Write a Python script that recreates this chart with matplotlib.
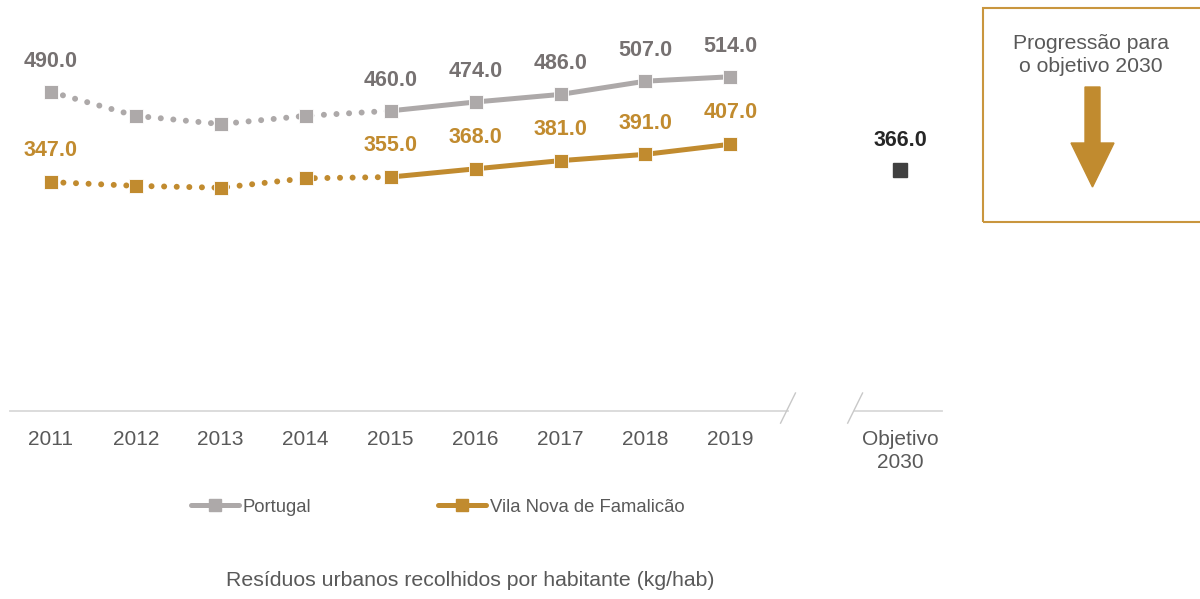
import matplotlib
matplotlib.use("Agg")
import matplotlib.pyplot as plt
import matplotlib.patches as mpatches
from matplotlib.lines import Line2D

plt.rcParams['font.family'] = ['Liberation Sans', 'DejaVu Sans']

years = ["2011", "2012", "2013", "2014", "2015", "2016", "2017", "2018", "2019"]
portugal = [490, 452, 439, 452, 460, 474, 486, 507, 514]
vnf = [347, 341, 338, 353, 355, 368, 381, 391, 407]
goal_label = "Objetivo\n2030"
goal_value = 366
portugal_shown = {0: 490, 4: 460, 5: 474, 6: 486, 7: 507, 8: 514}
vnf_shown = {0: 347, 4: 355, 5: 368, 6: 381, 7: 391, 8: 407}

GRAY = '#ADA9A9'
GRAY_TXT = '#767171'
GOLD = '#C18B2F'
DARK = '#404040'
TICK = '#595959'

W, H = 1200, 599
fig = plt.figure(figsize=(W / 100, H / 100), dpi=100)

# axes placement (pixels): left 10, right 942, bottom 411, top 20
ax = fig.add_axes([10 / W, (H - 411) / H, (942 - 10) / W, (411 - 20) / H])
ax.set_xlim(-0.48, 10.49)
ax.set_ylim(-16, 604)
for s in ax.spines.values():
    s.set_visible(False)
ax.set_yticks([])

x = list(range(len(years)))
lw = 3.6
dot = (0, (0.01, 2.1))

# Portugal
ax.plot(x[:5], portugal[:5], color=GRAY, lw=4.3, linestyle=dot, dash_capstyle='round', zorder=2)
ax.plot(x[4:], portugal[4:], color=GRAY, lw=lw, solid_capstyle='butt', zorder=2)
ax.plot(x, portugal, linestyle='none', marker='s', ms=9.5, color=GRAY, mec='white', mew=0.6, zorder=3)
# VNF
ax.plot(x[:5], vnf[:5], color=GOLD, lw=4.3, linestyle=dot, dash_capstyle='round', zorder=2)
ax.plot(x[4:], vnf[4:], color=GOLD, lw=lw, solid_capstyle='butt', zorder=2)
ax.plot(x, vnf, linestyle='none', marker='s', ms=9.5, color=GOLD, mec='white', mew=0.6, zorder=3)
# goal
gx = len(years) + 1
ax.plot([gx], [goal_value], linestyle='none', marker='s', ms=9.5, color=DARK, zorder=3)

lab_kw = dict(textcoords='offset points', ha='center', va='center', fontsize=15.5, fontweight='bold')
for i, v in portugal_shown.items():
    ax.annotate(f"{v:.1f}", (i, v), xytext=(0, 22), color=GRAY_TXT, **lab_kw)
for i, v in vnf_shown.items():
    ax.annotate(f"{v:.1f}", (i, v), xytext=(0, 22.5), color=GOLD, **lab_kw)
ax.annotate(f"{goal_value:.1f}", (gx, goal_value), xytext=(0, 21.5), color='#262626', **lab_kw)

# x ticks
ticks = x + [gx]
ax.set_xticks(ticks)
ax.set_xticklabels(years + [goal_label], fontsize=15, color=TICK, multialignment='center',
                   linespacing=1.28)
ax.tick_params(axis='x', length=0, pad=13.5)

# baseline with break
bt = ax.get_xaxis_transform()
AX = '#D9D9D9'
ax.plot([-0.48, 8.68], [0, 0], color=AX, lw=1.3, transform=bt, clip_on=False)
ax.plot([9.47, 10.49], [0, 0], color=AX, lw=1.3, transform=bt, clip_on=False)
for sx in (8.68, 9.47):
    ax.plot([sx + 0.085, sx - 0.09], [0.046, -0.031], color='#C8C8C8', lw=1.0, transform=bt, clip_on=False)

# legend
h1 = Line2D([], [], color=GRAY, lw=lw, marker='s', ms=9, solid_capstyle='round')
h2 = Line2D([], [], color=GOLD, lw=lw, marker='s', ms=9, solid_capstyle='round')
leg = fig.legend([h1, h2], ["Portugal", "Vila Nova de Famalicão"], loc='center left',
                 bbox_to_anchor=(191 / W, 1 - 507 / H), ncol=2, frameon=False,
                 fontsize=13.3, handlelength=2.6, handletextpad=0.2, columnspacing=6.85,
                 borderpad=0, borderaxespad=0, numpoints=1)
for t in leg.get_texts():
    t.set_color(TICK)

# caption
fig.text(470 / W, 1 - 581 / H, "Resíduos urbanos recolhidos por habitante (kg/hab)",
         ha='center', va='center', fontsize=15.3, color=TICK)

# side box
box = mpatches.Rectangle((983 / W, 1 - 222 / H), 240 / W, (222 - 8) / H, transform=fig.transFigure,
                         fill=False, edgecolor='#C9963E', lw=1.5)
fig.patches.append(box)
fig.text(1091 / W, 1 - 55 / H, "Progressão para\no objetivo 2030", ha='center', va='center',
         fontsize=15.2, color=TICK, linespacing=1.32)
arrow = mpatches.FancyArrow(1092.5 / W, 1 - 87 / H, 0, -(187 - 87) / H, width=15 / W,
                            head_width=43 / W, head_length=(187 - 143) / H,
                            length_includes_head=True, color=GOLD, transform=fig.transFigure)
fig.patches.append(arrow)

fig.savefig("out.png", dpi=100)
